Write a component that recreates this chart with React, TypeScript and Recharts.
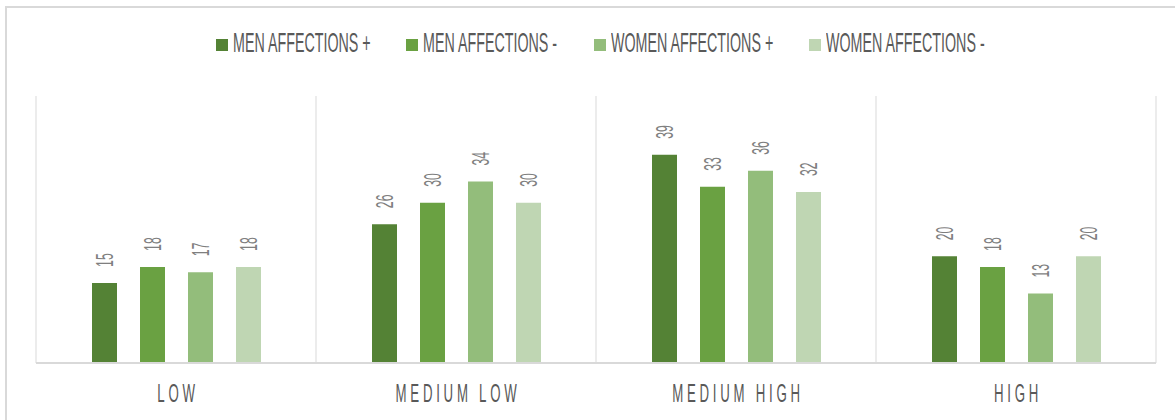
import { useLayoutEffect, useRef, useState } from "react";
import { BarChart, Bar, XAxis, YAxis, CartesianGrid, LabelList } from "recharts";

const categories = ["LOW", "MEDIUM LOW", "MEDIUM HIGH", "HIGH"];
const menPlus = [15, 26, 39, 20];
const menMinus = [18, 30, 33, 18];
const womenPlus = [17, 34, 36, 13];
const womenMinus = [18, 30, 32, 20];

const seriesKeys = ["menPlus", "menMinus", "womenPlus", "womenMinus"];
const seriesNames = ["MEN AFFECTIONS +", "MEN AFFECTIONS -", "WOMEN AFFECTIONS +", "WOMEN AFFECTIONS -"];
const seriesColors = ["#548235", "#6aa142", "#93bd7b", "#bfd6b3"];

const FONT = "'Liberation Sans', Arial, sans-serif";
const SQUEEZE = 0.51;

const data = categories.map((name, i) => ({
  name,
  menPlus: menPlus[i],
  menMinus: menMinus[i],
  womenPlus: womenPlus[i],
  womenMinus: womenMinus[i],
}));

// narrow, tall text (the original uses a very condensed face)
function Squeezed({ text, size, color }: { text: string; size: number; color: string }) {
  const ref = useRef<HTMLSpanElement>(null);
  const [w, setW] = useState<number | null>(null);
  useLayoutEffect(() => {
    if (ref.current) setW(ref.current.offsetWidth * SQUEEZE);
  }, [text]);
  return (
    <span style={{ display: "inline-block", width: w ?? "auto", whiteSpace: "nowrap" }}>
      <span
        ref={ref}
        style={{
          display: "inline-block",
          fontSize: size,
          lineHeight: `${size}px`,
          color,
          transform: `scaleX(${SQUEEZE})`,
          transformOrigin: "left center",
        }}
      >
        {text}
      </span>
    </span>
  );
}

function ValueLabel(props: any) {
  const { x, y, width, value } = props;
  return (
    <text
      transform={`translate(${x + width / 2},${y - 16}) rotate(-90) scale(${SQUEEZE},1)`}
      dy="0.36em"
      textAnchor="start"
      fontSize={24}
      fill="#7f7f7f"
      fontFamily={FONT}
    >
      {value}
    </text>
  );
}

function CategoryTick(props: any) {
  const { x, y, payload } = props;
  return (
    <text
      transform={`translate(${x + 2},${y + 39}) scale(${SQUEEZE},1)`}
      textAnchor="middle"
      fontSize={26}
      letterSpacing={7.3}
      fill="#595959"
      fontFamily={FONT}
    >
      {payload.value}
    </text>
  );
}

export default function App() {
  return (
    <div style={{ position: "absolute", left: 0, top: 0, width: 1175, height: 420, overflow: "hidden", background: "#fff", fontFamily: FONT }}>
      <div
        style={{
          position: "absolute",
          left: 5,
          top: 6,
          width: 1200,
          height: 440,
          borderLeft: "2px solid #d9d9d9",
          borderTop: "2px solid #d9d9d9",
        }}
      />
      <div
        style={{
          position: "absolute",
          left: 25,
          top: 29,
          width: 1150,
          display: "flex",
          justifyContent: "center",
        }}
      >
        {seriesNames.map((n, i) => (
          <div key={n} style={{ display: "flex", alignItems: "flex-start", marginRight: i < seriesNames.length - 1 ? 36 : 0 }}>
            <span style={{ width: 12, height: 12, background: seriesColors[i], marginTop: 10, marginRight: 5 }} />
            <Squeezed text={n} size={28} color="#595959" />
          </div>
        ))}
      </div>
      <div style={{ position: "absolute", left: 0, top: 0 }}>
        <BarChart
          width={1175}
          height={420}
          data={data}
          margin={{ top: 96, right: 19, left: 36, bottom: 7 }}
          barCategoryGap={56}
          barGap={23}
        >
          <CartesianGrid
            horizontal={false}
            stroke="#d9d9d9"
            verticalCoordinatesGenerator={({ offset }: any) =>
              categories.map((_, i) => offset.left + (i * offset.width) / categories.length).concat(offset.left + offset.width)
            }
          />
          <XAxis
            dataKey="name"
            height={50}
            tickSize={0}
            tickMargin={0}
            axisLine={{ stroke: "#d9d9d9", strokeWidth: 2 }}
            tickLine={false}
            tick={<CategoryTick />}
            interval={0}
          />
          <YAxis hide domain={[0, 50]} />
          {seriesKeys.map((k, i) => (
            <Bar key={k} dataKey={k} name={seriesNames[i]} fill={seriesColors[i]} isAnimationActive={false}>
              <LabelList dataKey={k} content={<ValueLabel />} />
            </Bar>
          ))}
        </BarChart>
      </div>
    </div>
  );
}
